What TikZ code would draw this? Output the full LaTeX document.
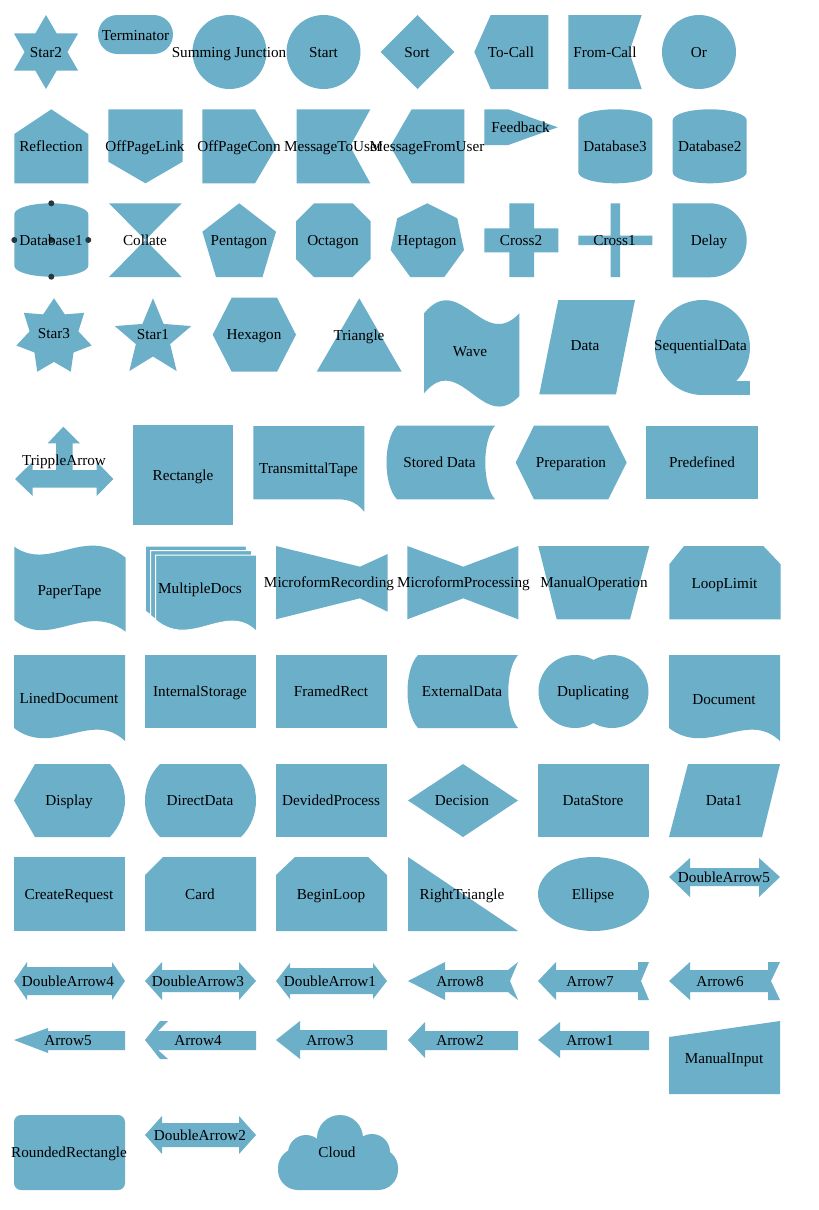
\documentclass[tikz,border=0pt]{standalone}
\usepackage{fontspec}
\setmainfont{Liberation Serif}
\definecolor{sfill}{RGB}{107,175,201}
\definecolor{pdot}{RGB}{36,56,62}
\newcommand{\mycyl}[5]{%
\fill[shp] (#1,{#2+#5}) .. controls (#1,{#2+0.448*#5}) and ({#1+0.224*(#3-#1)},#2) .. ({(#1+#3)/2},#2) .. controls ({#3-0.224*(#3-#1)},#2) and (#3,{#2+0.448*#5}) .. (#3,{#2+#5}) -- (#3,{#4-#5}) .. controls (#3,{#4-0.448*#5}) and ({#3-0.224*(#3-#1)},#4) .. ({(#1+#3)/2},#4) .. controls ({#1+0.224*(#3-#1)},#4) and (#1,{#4-0.448*#5}) .. (#1,{#4-#5}) -- cycle;}
% star: cx cy n R r lastindex
\newcommand{\mystar}[6]{%
\fill[shp,shift={(#1,#2)}] (-90:#4) \foreach \k in {1,...,#6} { -- ({-90+180/#3*\k}:{ifthenelse(mod(\k,2)==0,#4,#5)}) } -- cycle;}
% document: x0 y0 w hL hR
\newcommand{\mydoc}[6][]{%
\path[shp,#1] (#2,#3) -- ({#2+#4},#3) -- ({#2+#4},{#3+#6}) .. controls ({#2+0.7*#4},{#3+#5-19}) and ({#2+0.35*#4},{#3+#5+30}) .. (#2,{#3+#5}) -- cycle;}
\begin{document}
\begin{tikzpicture}[x=1pt,y=-1pt,
  shp/.style={fill=sfill},
  lbl/.style={font=\fontsize{15.2}{18}\selectfont, inner sep=0pt, text height=10pt, text depth=0pt, text=black}]
\fill[white] (0,0) rectangle (819,1210);
\useasboundingbox (0,0) rectangle (819,1210);
% ---------- row 1
\mystar{46}{52}{6}{37}{21.4}{11}
\fill[shp,rounded corners=19.5pt] (98,15) rectangle (173,54);
\fill[shp] (229.5,52) circle (37);
\fill[shp] (323.5,52) circle (37);
\fill[shp] (380.7,52) -- (417.5,15) -- (454.3,52) -- (417.5,89) -- cycle;
\fill[shp] (474.3,52) -- (490.7,15) -- (548.3,15) -- (548.3,89) -- (490.7,89) -- cycle;
\fill[shp] (568.3,15) -- (641.7,15) -- (629.3,52) -- (641.7,89) -- (568.3,89) -- cycle;
\fill[shp] (699,52) circle (37);
% ---------- row 2
\fill[shp] (14.3,134) -- (51.3,109.3) -- (88.3,134) -- (88.3,183.3) -- (14.3,183.3) -- cycle;
\fill[shp] (108.3,109.3) -- (182.7,109.3) -- (182.7,161.7) -- (145.5,183.3) -- (108.3,161.7) -- cycle;
\fill[shp] (202.3,109.3) -- (255,109.3) -- (276.7,146.3) -- (255,183.3) -- (202.3,183.3) -- cycle;
\fill[shp] (296.7,109.3) -- (370.3,109.3) -- (350,146.3) -- (370.3,183.3) -- (296.7,183.3) -- cycle;
\fill[shp] (390.3,146.3) -- (411.7,109.3) -- (464.3,109.3) -- (464.3,183.3) -- (411.7,183.3) -- cycle;
\fill[shp] (484.3,109.3) -- (508.3,109.3) -- (557.7,127.3) -- (508.3,145) -- (484.3,145) -- cycle;
\mycyl{578.3}{109.3}{652.3}{183.3}{11}
\mycyl{672.7}{109.3}{746.7}{183.3}{11}
% ---------- row 3
\mycyl{14.3}{203.3}{88.3}{276.7}{11}
\fill[shp] (109,203.3) -- (181.7,203.3) -- (145.3,240) -- cycle;
\fill[shp] (145.3,240) -- (181.7,277) -- (109,277) -- cycle;
\fill[shp] (239.2,203.3) -- (276,231.7) -- (262.5,277) -- (216,277) -- (202.4,231.7) -- cycle;
\fill[shp] (314,203.3) -- (352.7,203.3) -- (370.7,221.3) -- (370.7,259) -- (352.7,277) -- (314,277) -- (296,259) -- (296,221.3) -- cycle;
\fill[shp] (427.3,203.3) -- (457.3,218.3) -- (464,250) -- (444.3,277) -- (410.3,277) -- (390.6,250) -- (397.3,218.3) -- cycle;
\fill[shp] (509.3,203.3) -- (534,203.3) -- (534,228.3) -- (558.3,228.3) -- (558.3,252.3) -- (534,252.3) -- (534,277) -- (509.3,277) -- (509.3,252.3) -- (484.3,252.3) -- (484.3,228.3) -- (509.3,228.3) -- cycle;
\fill[shp] (610.7,203.3) -- (620,203.3) -- (620,235.7) -- (652.3,235.7) -- (652.3,245) -- (620,245) -- (620,277) -- (610.7,277) -- (610.7,245) -- (578.3,245) -- (578.3,235.7) -- (610.7,235.7) -- cycle;
\fill[shp] (672.7,203.3) -- (709.7,203.3) .. controls (730.1,203.3) and (746.7,219.9) .. (746.7,240.3) .. controls (746.7,260.7) and (730.1,277.3) .. (709.7,277.3) -- (672.7,277.3) -- cycle;
% ---------- row 4
\mystar{54}{336.9}{7}{38.6}{25}{13}
\mystar{153}{338.5}{5}{40.2}{18}{9}
\fill[shp] (212.7,334.7) -- (231.7,297.7) -- (277,297.7) -- (296,334.7) -- (277,371.7) -- (231.7,371.7) -- cycle;
\fill[shp] (359.3,298.3) -- (401.7,371.7) -- (316.7,371.7) -- cycle;
\fill[shp] (424,313.3) .. controls (460,270) and (483,352) .. (519.3,313.3) -- (519.3,396) .. controls (483,435) and (460,350) .. (424,393.3) -- cycle;
\fill[shp] (558.3,300) -- (635,300) -- (616,394.3) -- (539.3,394.3) -- cycle;
\fill[shp] (702.5,347.5) circle (47.5);
\fill[shp] (702.5,380.7) rectangle (750,395);
% ---------- row 5
\fill[shp] (63.3,426.7) -- (80,443.3) -- (72.7,443.3) -- (72.7,470) -- (96.7,470) -- (96.7,461.7) -- (113.3,479) -- (96.7,496) -- (96.7,487.7) -- (32.7,487.7) -- (32.7,496) -- (15,479) -- (32.7,461.7) -- (32.7,470) -- (56,470) -- (56,443.3) -- (47.7,443.3) -- cycle;
\fill[shp] (132.7,425) rectangle (232.7,525);
\fill[shp] (253.3,426) -- (364.3,426) -- (364.3,511.7) .. controls (355,500) and (345,499.3) .. (336.7,499.3) -- (253.3,499.3) -- cycle;
\fill[shp] (397,425.7) -- (495,425.7) .. controls (482,440) and (482,485) .. (495,499.3) -- (397,499.3) .. controls (383,485) and (383,440) .. (397,425.7) -- cycle;
\fill[shp] (515.7,462.5) -- (534,425.7) -- (608.3,425.7) -- (626.7,462.5) -- (608.3,499.3) -- (534,499.3) -- cycle;
\fill[shp] (646,425.7) rectangle (757.7,499.3);
% ---------- row 6
\fill[shp] (14.3,546.7) .. controls (50,572) and (85,525) .. (125.7,557.7) -- (125.7,631.7) .. controls (85,601) and (50,650) .. (14.3,620) -- cycle;
\mydoc[draw=white,line width=1pt]{145.3}{546}{101}{65}{76.7}
\mydoc[draw=white,line width=1pt]{150.5}{550.5}{101}{65}{76.7}
\mydoc[draw=white,line width=1pt]{155.7}{555}{101}{65}{76.7}
\fill[shp] (276,546) -- (360,566.7) -- (387.7,554) -- (387.7,611.7) -- (360,598.3) -- (276,619.3) -- cycle;
\fill[shp] (407.3,546) -- (463.3,566.7) -- (518.3,546) -- (518.3,619.3) -- (463.3,598.3) -- (407.3,619.3) -- cycle;
\fill[shp] (538.3,546) -- (649.3,546) -- (630,619.3) -- (556.7,619.3) -- cycle;
\fill[shp] (669.3,564.3) -- (684,546) -- (763.3,546) -- (780.7,564.3) -- (780.7,619.3) -- (669.3,619.3) -- cycle;
% ---------- row 7
\mydoc{14}{655}{111}{73}{86}
\fill[shp] (145,655) rectangle (256,728);
\fill[shp] (276,655) rectangle (387,728);
\fill[shp] (418,655) -- (518,655) .. controls (505,670) and (505,713) .. (518,728) -- (418,728) .. controls (404,713) and (404,670) .. (418,655) -- cycle;
\fill[shp] (575,691.5) circle (36.5);
\fill[shp] (612,691.5) circle (36.5);
\mydoc{669}{655}{111}{73}{86}
% ---------- row 8
\fill[shp] (14,800.5) -- (35,764) -- (110,764) .. controls (120,775) and (125,788) .. (125,800.5) .. controls (125,813) and (120,826) .. (110,837) -- (35,837) -- cycle;
\fill[shp] (160,764) -- (241,764) .. controls (251,774) and (256,787) .. (256,800.5) .. controls (256,814) and (251,827) .. (241,837) -- (160,837) .. controls (150,827) and (145,814) .. (145,800.5) .. controls (145,787) and (150,774) .. (160,764) -- cycle;
\fill[shp] (276,764) rectangle (387,837);
\fill[shp] (408,800.5) -- (463,764) -- (518,800.5) -- (463,837) -- cycle;
\fill[shp] (538,764) rectangle (649,837);
\fill[shp] (688,764) -- (780,764) -- (762,837) -- (669,837) -- cycle;
% ---------- row 9
\fill[shp] (14,857) rectangle (125,931);
\fill[shp] (163,857) -- (256,857) -- (256,931) -- (145,931) -- (145,875) -- cycle;
\fill[shp] (295,857) -- (368,857) -- (387,875) -- (387,931) -- (276,931) -- (276,875) -- cycle;
\fill[shp] (408,857) -- (518,931) -- (408,931) -- cycle;
\fill[shp] (593.5,894) ellipse [x radius=55.5, y radius=37];
\fill[shp] (669,877) -- (690,858) -- (690,868) -- (759,868) -- (759,858) -- (780,877) -- (759,897) -- (759,886) -- (690,886) -- (690,897) -- cycle;
% ---------- row 10
\fill[shp] (14,981) -- (27,962) -- (27,967) -- (112,967) -- (112,962) -- (125,981) -- (112,1000) -- (112,995) -- (27,995) -- (27,1000) -- cycle;
\fill[shp] (145,981) -- (162,962) -- (162,970) -- (239,970) -- (239,962) -- (256,981) -- (239,1000) -- (239,992) -- (162,992) -- (162,1000) -- cycle;
\fill[shp] (276,981) -- (290,963) -- (290,968) -- (373,968) -- (373,963) -- (387,981) -- (373,999) -- (373,994) -- (290,994) -- (290,999) -- cycle;
\fill[shp] (408,981) -- (445,962) -- (445,970) -- (508,970) -- (518,962) -- (510,981) -- (518,1000) -- (508,992) -- (445,992) -- (445,1000) -- cycle;
\fill[shp] (538,981) -- (556,962) -- (556,970) -- (638,970) -- (638,962) -- (649,962) -- (641,981) -- (649,1000) -- (638,1000) -- (638,992) -- (556,992) -- (556,1000) -- cycle;
\fill[shp] (669,981) -- (690,962) -- (690,970) -- (768,970) -- (768,962) -- (780,962) -- (771,981) -- (780,1000) -- (768,1000) -- (768,992) -- (690,992) -- (690,1000) -- cycle;
% ---------- row 11
\fill[shp] (14,1040) -- (48,1028) -- (48,1031) -- (125,1031) -- (125,1050) -- (48,1050) -- (48,1053) -- cycle;
\fill[shp] (145,1040) -- (160,1021) -- (168,1021) -- (158,1031) -- (256,1031) -- (256,1050) -- (158,1050) -- (168,1059) -- (160,1059) -- cycle;
\fill[shp] (276,1040) -- (300,1021) -- (300,1030) -- (387,1030) -- (387,1050) -- (300,1050) -- (300,1059) -- cycle;
\fill[shp] (408,1040) -- (425,1022) -- (425,1031) -- (518,1031) -- (518,1050) -- (425,1050) -- (425,1058) -- cycle;
\fill[shp] (538,1040) -- (560,1022) -- (560,1031) -- (649,1031) -- (649,1050) -- (560,1050) -- (560,1058) -- cycle;
\fill[shp] (669,1037) -- (780,1021) -- (780,1094) -- (669,1094) -- cycle;
% ---------- row 12
\fill[shp,rounded corners=7pt] (14,1115) rectangle (125,1190);
\fill[shp] (145,1135) -- (162,1116) -- (162,1123) -- (239,1123) -- (239,1116) -- (256,1135) -- (239,1154) -- (239,1147) -- (162,1147) -- (162,1154) -- cycle;
\fill[shp,rounded corners=20pt] (278,1148) rectangle (398,1190);
\fill[shp] (340,1138) circle (23);
\fill[shp] (306,1153) circle (18);
\fill[shp] (372,1152) circle (18);
% ports of Database1
\foreach \p in {(51.3,203.3),(51.3,276.7),(14.3,240),(88.3,240),(51.3,240)} \fill[pdot] \p circle (3);
% ---------- labels
\node[lbl] (l1) at (46,52) {Star2};
\node[lbl] (l2) at (135.5,35) {Terminator};
\node[lbl] (l3) at (229,52) {Summing Junction};
\node[lbl] (l4) at (323.5,52) {Start};
\node[lbl] (l5) at (417,52) {Sort};
\node[lbl] (l6) at (511,52) {To-Call};
\node[lbl] (l7) at (605,52) {From-Call};
\node[lbl] (l8) at (699,52) {Or};
\node[lbl] (l9) at (51,146) {Reflection};
\node[lbl] (l10) at (145,146) {OffPageLink};
\node[lbl] (l11) at (239,146) {OffPageConn};
\node[lbl] (l12) at (333,146) {MessageToUser};
\node[lbl] (l13) at (427,146) {MessageFromUser};
\node[lbl] (l14) at (520.5,127.3) {Feedback};
\node[lbl] (l15) at (615,146) {Database3};
\node[lbl] (l16) at (709.7,146) {Database2};
\node[lbl] (l17) at (51,240) {Database1};
\node[lbl] (l18) at (145,240) {Collate};
\node[lbl] (l19) at (239,240) {Pentagon};
\node[lbl] (l20) at (333,240) {Octagon};
\node[lbl] (l21) at (427,240) {Heptagon};
\node[lbl] (l22) at (521,240) {Cross2};
\node[lbl] (l23) at (614.5,240) {Cross1};
\node[lbl] (l24) at (709,240) {Delay};
\node[lbl] (l25) at (54,333.5) {Star3};
\node[lbl] (l26) at (153,334) {Star1};
\node[lbl] (l27) at (254,334) {Hexagon};
\node[lbl] (l28) at (359,335) {Triangle};
\node[lbl] (l29) at (470,351) {Wave};
\node[lbl] (l30) at (585,345) {Data};
\node[lbl] (l31) at (700.5,345) {SequentialData};
\node[lbl] (l32) at (64,460) {TrippleArrow};
\node[lbl] (l33) at (183,475) {Rectangle};
\node[lbl] (l34) at (308.5,468) {TransmittalTape};
\node[lbl] (l35) at (439.5,462.3) {Stored Data};
\node[lbl] (l36) at (571,462.5) {Preparation};
\node[lbl] (l37) at (702,462) {Predefined};
\node[lbl] (l38) at (69.5,590) {PaperTape};
\node[lbl] (l39) at (200,588.5) {MultipleDocs};
\node[lbl] (l40) at (329,582) {MicroformRecording};
\node[lbl] (l41) at (463.5,582) {MicroformProcessing};
\node[lbl] (l42) at (594,582) {ManualOperation};
\node[lbl] (l43) at (724.5,583) {LoopLimit};
\node[lbl] (l44) at (69,698) {LinedDocument};
\node[lbl] (l45) at (200,691) {InternalStorage};
\node[lbl] (l46) at (331,691) {FramedRect};
\node[lbl] (l47) at (462,691) {ExternalData};
\node[lbl] (l48) at (593,691) {Duplicating};
\node[lbl] (l49) at (724,699) {Document};
\node[lbl] (l50) at (69,800) {Display};
\node[lbl] (l51) at (200,800) {DirectData};
\node[lbl] (l52) at (331,800) {DevidedProcess};
\node[lbl] (l53) at (462,800) {Decision};
\node[lbl] (l54) at (593,800) {DataStore};
\node[lbl] (l55) at (724,800) {Data1};
\node[lbl] (l56) at (69,894) {CreateRequest};
\node[lbl] (l57) at (200,894) {Card};
\node[lbl] (l58) at (331,894) {BeginLoop};
\node[lbl] (l59) at (462,894) {RightTriangle};
\node[lbl] (l60) at (593,894) {Ellipse};
\node[lbl] (l61) at (724,877) {DoubleArrow5};
\node[lbl] (l62) at (68,981) {DoubleArrow4};
\node[lbl] (l63) at (198,981) {DoubleArrow3};
\node[lbl] (l64) at (330,981) {DoubleArrow1};
\node[lbl] (l65) at (460,981) {Arrow8};
\node[lbl] (l66) at (590,981) {Arrow7};
\node[lbl] (l67) at (720,981) {Arrow6};
\node[lbl] (l68) at (68,1040) {Arrow5};
\node[lbl] (l69) at (198,1040) {Arrow4};
\node[lbl] (l70) at (330,1040) {Arrow3};
\node[lbl] (l71) at (460,1040) {Arrow2};
\node[lbl] (l72) at (590,1040) {Arrow1};
\node[lbl] (l73) at (724,1058) {ManualInput};
\node[lbl] (l74) at (69,1152) {RoundedRectangle};
\node[lbl] (l75) at (200,1135) {DoubleArrow2};
\node[lbl] (l76) at (337,1152) {Cloud};
\end{tikzpicture}
\end{document}
